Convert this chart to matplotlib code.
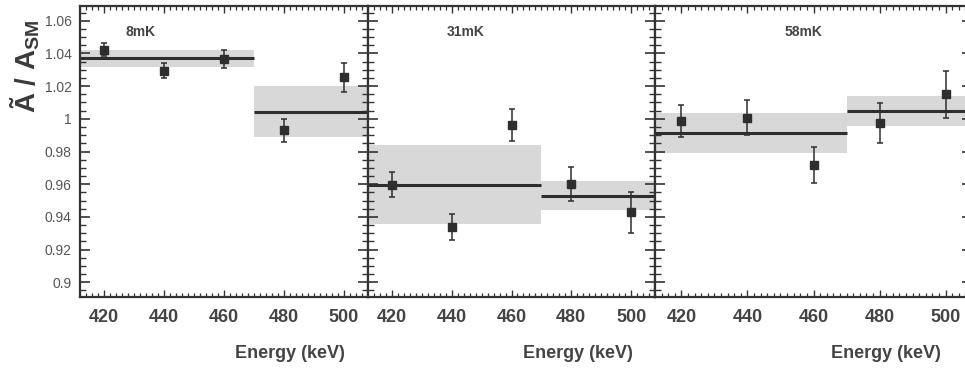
import matplotlib
matplotlib.use("Agg")
import matplotlib.pyplot as plt
from matplotlib.ticker import MultipleLocator, FixedLocator

plt.rcParams['font.family'] = ['Liberation Sans Narrow', 'Liberation Sans', 'DejaVu Sans']
plt.rcParams['mathtext.fontset'] = 'custom'
plt.rcParams['mathtext.rm'] = 'Liberation Sans:bold'
plt.rcParams['mathtext.it'] = 'Liberation Sans:bold'
plt.rcParams['mathtext.bf'] = 'Liberation Sans:bold'

# ---- data ----
energies = [420, 440, 460, 480, 500]
panel_titles = ["8mK", "31mK", "58mK"]

vals_8 = [1.0423, 1.0294, 1.0366, 0.9929, 1.0254]
err_8 = [0.0040, 0.0046, 0.0055, 0.0068, 0.0090]
vals_31 = [0.9597, 0.9336, 0.9962, 0.9603, 0.9427]
err_31 = [0.0077, 0.0079, 0.0098, 0.0103, 0.0123]
vals_58 = [0.9987, 1.0007, 0.9720, 0.9972, 1.0149]
err_58 = [0.0097, 0.0105, 0.0110, 0.0122, 0.0142]

bin_edges = [400, 470, 520]
fit_8 = [1.0369, 1.0044]
fit_err_8 = [0.0054, 0.0154]
fit_31 = [0.9597, 0.9530]
fit_err_31 = [0.0240, 0.0087]
fit_58 = [0.9913, 1.0048]
fit_err_58 = [0.0125, 0.0089]

xticks = [420, 440, 460, 480, 500]
yticks = [0.9, 0.92, 0.94, 0.96, 0.98, 1.0, 1.02, 1.04, 1.06]
ytick_labels = ["0.9", "0.92", "0.94", "0.96", "0.98", "1", "1.02", "1.04", "1.06"]

vals = [vals_8, vals_31, vals_58]
errs = [err_8, err_31, err_58]
fits = [fit_8, fit_31, fit_58]
fit_errs = [fit_err_8, fit_err_31, fit_err_58]

# ---- layout ----
W, H = 965, 370
fig = plt.figure(figsize=(W / 100, H / 100), dpi=100)
top_px, bot_px = 6, 297
panels_px = [(80, 288), (368, 287), (655, 317)]
title_pos = [0.21, 0.34, 0.47]

dark = "#2e2e2e"
band_col = "#d8d8d8"
txt = "#444444"

for i, (lx, wx) in enumerate(panels_px):
    ax = fig.add_axes([lx / W, (H - bot_px) / H, wx / W, (bot_px - top_px) / H])
    ax.set_xlim(412, 508)
    ax.set_ylim(0.891, 1.069)
    for j in range(2):
        ax.fill_between([bin_edges[j], bin_edges[j + 1]],
                        fits[i][j] - fit_errs[i][j], fits[i][j] + fit_errs[i][j],
                        color=band_col, lw=0, zorder=1)
        ax.plot([bin_edges[j], bin_edges[j + 1]], [fits[i][j], fits[i][j]],
                color=dark, lw=2.2, zorder=2, solid_capstyle='butt')
    ax.errorbar(energies, vals[i], yerr=errs[i], fmt='s', color=dark, ms=5.5,
                elinewidth=1.1, capsize=2.2, capthick=1.1, zorder=3)
    ax.text(title_pos[i], 0.91, panel_titles[i], transform=ax.transAxes,
            ha='center', va='center', fontsize=10, fontweight='bold', color=txt,
            family=['Liberation Sans', 'DejaVu Sans'])

    ax.xaxis.set_major_locator(FixedLocator(xticks))
    ax.xaxis.set_minor_locator(MultipleLocator(2))
    ax.yaxis.set_major_locator(FixedLocator(yticks))
    ax.yaxis.set_minor_locator(MultipleLocator(0.005))
    ax.tick_params(which='both', direction='in', top=True, right=True, color='#333333')
    ax.tick_params(which='major', axis='y', length=7, width=1.2)
    ax.tick_params(which='minor', axis='y', length=4, width=1.0)
    ax.tick_params(which='major', axis='x', length=5, width=1.0)
    ax.tick_params(which='minor', axis='x', length=3, width=0.9)
    ax.tick_params(axis='x', labelsize=13, labelcolor=txt, pad=9)
    for lab in ax.get_xticklabels():
        lab.set_fontweight('bold')
    if i == 0:
        ax.set_yticklabels(ytick_labels, fontsize=10, color='#555555',
                           family=['Liberation Sans', 'DejaVu Sans'])
        ax.tick_params(axis='y', pad=6)
    else:
        ax.set_yticklabels([])
    for s in ax.spines.values():
        s.set_color('#333333')
        s.set_linewidth(1.6)
    ax.set_xlabel("Energy (keV)", fontsize=13, fontweight='bold', color=txt)
    ax.xaxis.set_label_coords(0.73, -0.165)

fig.text(0.026, 0.82, r"Ã / A$_{\mathrm{SM}}$", rotation=90, ha='center', va='center',
         fontsize=20, fontweight='bold', color='#3a3a3a',
         family=['Liberation Sans', 'DejaVu Sans'])

fig.savefig("out.png", dpi=100)
